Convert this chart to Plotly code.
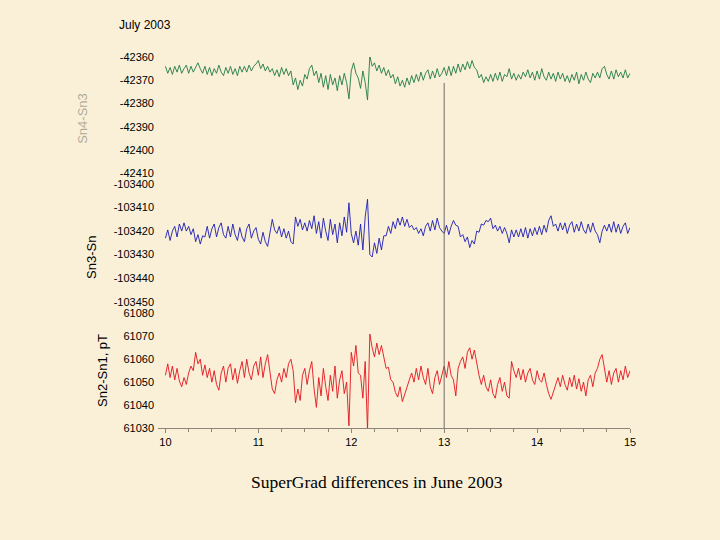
import numpy as np
import plotly.graph_objects as go

# ============================================
# DATA
# ============================================
start_day = 10.0
end_day = 15.0
marker_day = 13.0

# top panel, green
sn4_sn3 = [
    -42364, -42367, -42364.5, -42367.5, -42364, -42366.5, -42363.5, -42367, -42365, -42363.5, -42367, -42364, -42366.5, -42364.5, -42362.5, -42365, -42367,
    -42364, -42367.5, -42364.5, -42368, -42365, -42367, -42363.5, -42366.5, -42368, -42364.5, -42367, -42364, -42367.5, -42365, -42368, -42364, -42366.5,
    -42364, -42366.5, -42363.5, -42366, -42364, -42363, -42361.5, -42365, -42363, -42366, -42364, -42366.5,
    -42365, -42368, -42365.5, -42368.5, -42364.5, -42367.5, -42365, -42368, -42366,
    -42372, -42369, -42374, -42370, -42372.5, -42367.5,
    -42369.5, -42365, -42363.5, -42368, -42366,
    -42371, -42367, -42373, -42368, -42374, -42367.5, -42372, -42369, -42374.5, -42368, -42372, -42367, -42371, -42378,
    -42366, -42362.5, -42367,
    -42369, -42373.5, -42366, -42371, -42378.5,
    -42359.5,
    -42364, -42362.5, -42366, -42363.5, -42367, -42364.5, -42368, -42365.5, -42369,
    -42367.5, -42371.5, -42368.5, -42372.5, -42370, -42373, -42369,
    -42372, -42368, -42371, -42367.5, -42370.5, -42366.5, -42370, -42367, -42365.5, -42369.5, -42366, -42369, -42365, -42368.5, -42367,
    -42364.5, -42368, -42364, -42368, -42364, -42367, -42363, -42366.5, -42363, -42365.5,
    -42362, -42365, -42361.5, -42364.5,
    -42365.5, -42369, -42367.5, -42371, -42368.5, -42370.5, -42367.5,
    -42370.5, -42367, -42370, -42366.5, -42370.5, -42367.5, -42368.5, -42365, -42369.5, -42367, -42370, -42367.5, -42369.5, -42366.5,
    -42368.5, -42365.5, -42369, -42366.5, -42370, -42366, -42369.5, -42365, -42368.5, -42370, -42366.5, -42369.5, -42367, -42370.5, -42366.5,
    -42369.5, -42367, -42370.5, -42368, -42371, -42367.5, -42370, -42366.5, -42371.5, -42367.5, -42370, -42366.5, -42369.5, -42371, -42367, -42369,
    -42366.5, -42369, -42365, -42364, -42367.5, -42369.5, -42366, -42369.5, -42365.5, -42368.5, -42366.5, -42369, -42365.5, -42369, -42367,
]

# middle panel, blue
sn3_sn = [
    -103423, -103419.5, -103424, -103420, -103418, -103422.5, -103417, -103420, -103416.5, -103420, -103418, -103421.5, -103419,
    -103424.5, -103421.5, -103425.5, -103422,
    -103422.5, -103418, -103423, -103419, -103417, -103422.5, -103418.5, -103416.5, -103421.5, -103423, -103418, -103422.5, -103417, -103421.5, -103424,
    -103418.5, -103422.5, -103424.5, -103419, -103417, -103423, -103420, -103418.5, -103423.5, -103425.5, -103420.5, -103424.5, -103426.5, -103421.5,
    -103415, -103419.5, -103421, -103418, -103422.5, -103419, -103423, -103420, -103424.5, -103425.5,
    -103414, -103418, -103415, -103419.5, -103416.5, -103420, -103415.5, -103419,
    -103413.5, -103421, -103416, -103423, -103414.5, -103420, -103424, -103415, -103421.5, -103417, -103425, -103416.5, -103422, -103414, -103420.5, -103408,
    -103421, -103425, -103420, -103426,
    -103417, -103428, -103414, -103406.5, -103430,
    -103431, -103425, -103429.5, -103423, -103428, -103422,
    -103422, -103418, -103421, -103416, -103419, -103414.5, -103417.5, -103414, -103418, -103415,
    -103418.5, -103417.5, -103419.5, -103418.5, -103421, -103419, -103422, -103418,
    -103416.5, -103420, -103415.5, -103419.5, -103414.5, -103418.5, -103420,
    -103421, -103417.5, -103421.5, -103418, -103415.5, -103417.5,
    -103418, -103422.5, -103421.5, -103424.5, -103422.5, -103427, -103424, -103425.5, -103420,
    -103420.5, -103417, -103417.5, -103415.5, -103416, -103414.5, -103419,
    -103417.5, -103420, -103418, -103421, -103418.5, -103421, -103425,
    -103419.5, -103422.5, -103419.5, -103422.5, -103419, -103422.5, -103418.5, -103423, -103419, -103422, -103418.5, -103421.5, -103418, -103421.5, -103417.5, -103420.5,
    -103415.5, -103413.5, -103418,
    -103417, -103420, -103416.5, -103419.5, -103416.5, -103421, -103417.5, -103416, -103420.5, -103417, -103420, -103416, -103419.5, -103421, -103417,
    -103420.5, -103416.5, -103420, -103421.5, -103425, -103420,
    -103417.5, -103420, -103417, -103420.5, -103416, -103420.5, -103417, -103421, -103418, -103416.5, -103421, -103418.5,
]

# bottom panel, red
sn2_sn1 = [
    61053, 61058, 61052, 61057, 61051, 61056, 61050.5,
    61048, 61052, 61049,
    61054, 61057, 61055, 61063, 61058, 61060,
    61053, 61057.5, 61052, 61056, 61050, 61055, 61049, 61046.5,
    61054, 61057, 61050, 61056, 61058, 61051, 61056, 61049.5, 61055, 61059, 61052,
    61060, 61054, 61051, 61057, 61059, 61053, 61061, 61052, 61058, 61062, 61054,
    61047, 61045, 61051,
    61054, 61050, 61056, 61052, 61058, 61060, 61055,
    61041, 61047, 61042,
    61053, 61056, 61049, 61055, 61059,
    61047, 61039, 61052, 61044, 61056, 61048, 61042, 61053, 61046, 61057, 61043, 61051, 61055, 61045, 61050, 61031,
    61063, 61057, 61066, 61054,
    61053, 61043, 61059, 61029, 61071,
    61065, 61061, 61067, 61062, 61066,
    61061, 61056, 61056.5, 61051, 61050,
    61045.5, 61043.5, 61048, 61041.5, 61044.5, 61047,
    61051, 61054, 61050, 61056, 61051, 61057, 61052, 61049, 61056, 61048, 61045, 61052, 61055, 61049, 61053,
    61057, 61052, 61059, 61053, 61051, 61044,
    61056, 61059, 61061, 61056, 61063, 61065, 61060, 61064, 61058,
    61053, 61049, 61053,
    61048, 61046, 61051, 61045, 61043, 61049, 61052, 61046, 61050, 61044, 61043,
    61059, 61055,
    61052, 61056, 61051, 61055.5, 61050, 61054, 61056, 61051, 61049, 61055, 61051, 61050, 61054, 61049,
    61045, 61042.5, 61046, 61049,
    61052, 61048, 61053, 61049, 61046.5, 61052, 61048, 61053, 61047, 61051.5, 61046, 61050, 61044, 61051, 61053, 61048, 61054, 61056,
    61060, 61062, 61056,
    61050, 61055, 61049, 61054, 61056, 61050, 61055, 61051, 61057, 61052, 61055,
]

top_ticks = [-42410, -42400, -42390, -42380, -42370, -42360]
mid_ticks = [-103450, -103440, -103430, -103420, -103410, -103400]
bot_ticks = [61030, 61040, 61050, 61060, 61070, 61080]
day_ticks = [10, 11, 12, 13, 14, 15]

BG = '#FAF0D8'
FONT = 'Liberation Sans'


def day_axis(series):
    return np.linspace(start_day, end_day, len(series))


fig = go.Figure()
fig.add_trace(go.Scatter(x=day_axis(sn2_sn1), y=sn2_sn1, mode='lines', line=dict(color='#E3121C', width=0.9),
                         xaxis='x', yaxis='y', showlegend=False))
fig.add_trace(go.Scatter(x=day_axis(sn3_sn), y=sn3_sn, mode='lines', line=dict(color='#1C1CB4', width=0.9),
                         xaxis='x', yaxis='y2', showlegend=False))
fig.add_trace(go.Scatter(x=day_axis(sn4_sn3), y=sn4_sn3, mode='lines', line=dict(color='#1F7A44', width=0.9),
                         xaxis='x', yaxis='y3', showlegend=False))

yax = dict(showgrid=False, zeroline=False, showline=False, ticks='',
           tickfont=dict(family=FONT, size=11, color='black'), ticklabelstandoff=3)

fig.update_layout(
    width=720, height=540,
    margin=dict(l=158, r=90, t=57, b=112),
    paper_bgcolor=BG, plot_bgcolor=BG,
    font=dict(family=FONT, color='black'),
    title=dict(text='July 2003', x=119/720, xanchor='left', xref='container',
               y=1 - 25/540, yanchor='middle', yref='container',
               font=dict(family=FONT, size=12, color='black')),
    xaxis=dict(range=[9.92, 15.0], anchor='y', showgrid=False, zeroline=False,
               showline=True, linecolor='#8C8478', linewidth=1,
               tickvals=day_ticks, ticktext=[str(d) for d in day_ticks],
               ticks='outside', ticklen=4, tickcolor='#8C8478',
               minor=dict(dtick=0.25, ticks='outside', ticklen=3, tickcolor='#8C8478', showgrid=False),
               tickfont=dict(family=FONT, size=11, color='black')),
    yaxis=dict(domain=[0.0, 0.309], range=[bot_ticks[0], bot_ticks[-1]],
               tickvals=bot_ticks, ticktext=[str(v) for v in bot_ticks], **yax),
    yaxis2=dict(domain=[0.3404, 0.6577], range=[mid_ticks[0], mid_ticks[-1]], anchor='x',
                tickvals=mid_ticks, ticktext=[str(v) for v in mid_ticks], **yax),
    yaxis3=dict(domain=[0.6865, 1.0], range=[top_ticks[0], top_ticks[-1]], anchor='x',
                tickvals=top_ticks, ticktext=[str(v) for v in top_ticks], **yax),
)

# vertical marker at day 13
fig.add_shape(type='line', xref='x', yref='paper', x0=marker_day, x1=marker_day, y0=0, y1=0.93,
              line=dict(color='#6E6A66', width=1))

# axis labels and caption
label_font = dict(family=FONT, size=13, color='black')
fig.add_annotation(text='Sn2-Sn1, pT', xref='paper', yref='paper', x=-0.119, y=0.156,
                   xanchor='center', yanchor='middle', textangle=-90, showarrow=False, font=label_font)
fig.add_annotation(text='Sn3-Sn', xref='paper', yref='paper', x=-0.140, y=0.461,
                   xanchor='center', yanchor='middle', textangle=-90, showarrow=False, font=label_font)
fig.add_annotation(text='Sn4-Sn3', xref='paper', yref='paper', x=-0.159, y=0.836,
                   xanchor='center', yanchor='middle', textangle=-90, showarrow=False, opacity=0.3,
                   font=label_font)
fig.add_annotation(text='SuperGrad differences in June 2003', xref='paper', yref='paper',
                   x=0.465, y=-0.1456, showarrow=False, xanchor='center', yanchor='middle',
                   font=dict(family='Liberation Serif', size=17.5, color='black'))

fig.write_html('out.html', config={'displayModeBar': False},
               post_script="document.body.style.margin='0px';")
